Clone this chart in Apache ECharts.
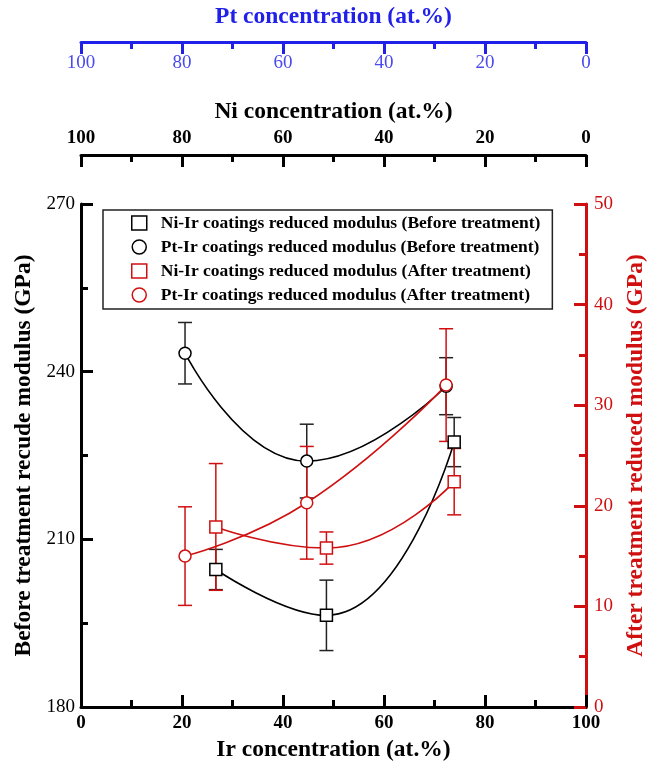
<!DOCTYPE html>
<html>
<head>
<meta charset="utf-8">
<script src="https://cdn.jsdelivr.net/npm/echarts@6/dist/echarts.min.js"></script>
<style>
  html, body { margin: 0; padding: 0; background: #fff; }
  #chart { width: 654px; height: 761px; }
</style>
</head>
<body>
<div id="chart"></div>
<script>
// Ir concentration (at.%) for each sample
const niIrX = [26.7, 48.6, 73.9];
const ptIrX = [20.6, 44.7, 72.3];

// before treatment (left axis, GPa)
const niIrBefore = [204.6, 196.4, 227.4];
const niIrBeforeErr = [3.6, 6.3, 4.4];
const ptIrBefore = [243.3, 224.0, 237.4];
const ptIrBeforeErr = [5.5, 6.6, 5.1];

// after treatment (right axis, GPa)
const niIrAfter = [17.9, 15.8, 22.4];
const niIrAfterErr = [6.3, 1.6, 3.3];
const ptIrAfter = [15.0, 20.3, 32.0];
const ptIrAfterErr = [4.9, 5.6, 5.6];

const legendNames = [
  'Ni-Ir coatings reduced modulus (Before treatment)',
  'Pt-Ir coatings reduced modulus (Before treatment)',
  'Ni-Ir coatings reduced modulus (After treatment)',
  'Pt-Ir coatings reduced modulus (After treatment)'
];

const RED = '#d01010';
const BLUE = '#2020e8';
const FONT = '"Liberation Serif", "DejaVu Serif", serif';

const pairs = (xs, ys) => xs.map((x, i) => [x, ys[i]]);
const triples = (xs, ys, es) => xs.map((x, i) => [x, ys[i], es[i]]);

// error bars with caps
const errRender = (color) => (params, api) => {
  const x = api.value(0), y = api.value(1), e = api.value(2);
  const hi = api.coord([x, y + e]);
  const lo = api.coord([x, y - e]);
  const w = 7;
  const style = { stroke: color, lineWidth: 1.5 };
  return {
    type: 'group',
    children: [
      { type: 'line', shape: { x1: hi[0], y1: hi[1], x2: lo[0], y2: lo[1] }, style },
      { type: 'line', shape: { x1: hi[0] - w, y1: hi[1], x2: hi[0] + w, y2: hi[1] }, style },
      { type: 'line', shape: { x1: lo[0] - w, y1: lo[1], x2: lo[0] + w, y2: lo[1] }, style }
    ]
  };
};

const lineSeries = (name, data, symbol, color, yIdx) => ({
  name,
  type: 'line',
  yAxisIndex: yIdx,
  data,
  smooth: 0.5,
  symbol,
  symbolSize: 12,
  showAllSymbol: true,
  lineStyle: { color, width: 1.6 },
  itemStyle: { color: '#fff', borderColor: color, borderWidth: 1.5 },
  z: 3
});

const errSeries = (data, color, yIdx) => ({
  type: 'custom',
  yAxisIndex: yIdx,
  renderItem: errRender(color),
  encode: { x: 0, y: 1 },
  data,
  silent: true,
  z: 2
});

const chart = echarts.init(document.getElementById('chart'));

const legendIcon = (name, icon, color) => ({
  name,
  icon,
  itemStyle: { color: 'rgba(0,0,0,0)', borderColor: color, borderWidth: 1.5 }
});

const titleStyle = (color) => ({ fontFamily: FONT, fontSize: 23.5, fontWeight: 'bold', color });

chart.setOption({
  animation: false,
  textStyle: { fontFamily: FONT },
  grid: { left: 81, right: 68, top: 204, bottom: 54, containLabel: false, outerBoundsMode: 'none' },
  legend: {
    orient: 'vertical',
    left: 103,
    top: 210,
    padding: [4, 12, 5, 28],
    borderColor: '#222',
    borderWidth: 1.5,
    itemWidth: 15,
    itemHeight: 14,
    itemGap: 6,
    textStyle: { fontFamily: FONT, fontSize: 17.5, fontWeight: 'bold', color: '#000', padding: [0, 0, 0, 9] },
    data: [
      legendIcon(legendNames[0], 'rect', '#000'),
      legendIcon(legendNames[1], 'circle', '#000'),
      legendIcon(legendNames[2], 'rect', RED),
      legendIcon(legendNames[3], 'circle', RED)
    ]
  },
  xAxis: [
    {
      type: 'value', min: 0, max: 100, interval: 20,
      name: 'Ir concentration (at.%)', nameLocation: 'middle', nameGap: 29,
      nameTextStyle: titleStyle('#000'),
      axisLine: { lineStyle: { color: '#000', width: 3 } },
      axisTick: { inside: true, length: 12, lineStyle: { width: 3, color: '#000' } },
      minorTick: { show: true, splitNumber: 2, length: 7, lineStyle: { width: 3, color: '#000' } },
      axisLabel: { fontFamily: FONT, fontSize: 19, fontWeight: 'bold', color: '#000', margin: 7 },
      splitLine: { show: false }
    },
    {
      type: 'value', min: 0, max: 100, interval: 20, inverse: true,
      position: 'top', offset: 49,
      name: 'Ni concentration (at.%)', nameLocation: 'middle', nameGap: 31,
      nameTextStyle: titleStyle('#000'),
      axisLine: { lineStyle: { color: '#000', width: 3 } },
      axisTick: { inside: true, length: 12, lineStyle: { width: 3, color: '#000' } },
      minorTick: { show: true, splitNumber: 2, length: 7, lineStyle: { width: 3, color: '#000' } },
      axisLabel: { fontFamily: FONT, fontSize: 19, fontWeight: 'bold', color: '#000', margin: 7 },
      splitLine: { show: false }
    },
    {
      type: 'value', min: 0, max: 100, interval: 20, inverse: true,
      position: 'top', offset: 162,
      name: 'Pt concentration (at.%)', nameLocation: 'middle', nameGap: 13,
      nameTextStyle: titleStyle(BLUE),
      axisLine: { lineStyle: { color: BLUE, width: 3 } },
      axisTick: { inside: true, length: 12, lineStyle: { width: 3, color: BLUE } },
      minorTick: { show: true, splitNumber: 2, length: 7, lineStyle: { width: 3, color: BLUE } },
      axisLabel: { inside: true, fontFamily: FONT, fontSize: 19, color: '#4a4aee', margin: 12 },
      splitLine: { show: false }
    }
  ],
  yAxis: [
    {
      type: 'value', min: 180, max: 270, interval: 30,
      name: 'Before treatment recude modulus (GPa)', nameLocation: 'middle', nameGap: 43, nameRotate: 90,
      nameTextStyle: titleStyle('#000'),
      axisLine: { show: true, lineStyle: { color: '#000', width: 3 } },
      axisTick: { inside: true, length: 12, lineStyle: { width: 3, color: '#000' } },
      minorTick: { show: true, splitNumber: 2, length: 7, lineStyle: { width: 3, color: '#000' } },
      axisLabel: { fontFamily: FONT, fontSize: 19, color: '#000', margin: 6 },
      splitLine: { show: false }
    },
    {
      type: 'value', min: 0, max: 50, interval: 10, position: 'right',
      name: 'After treatment reduced modulus (GPa)', nameLocation: 'middle', nameGap: 38, nameRotate: 90,
      nameTextStyle: titleStyle(RED),
      axisLine: { show: true, lineStyle: { color: RED, width: 3 } },
      axisTick: { inside: true, length: 12, lineStyle: { width: 3, color: RED } },
      minorTick: { show: true, splitNumber: 2, length: 7, lineStyle: { width: 3, color: RED } },
      axisLabel: { fontFamily: FONT, fontSize: 19, color: RED, margin: 8 },
      splitLine: { show: false }
    }
  ],
  series: [
    errSeries(triples(niIrX, niIrBefore, niIrBeforeErr), '#222', 0),
    errSeries(triples(ptIrX, ptIrBefore, ptIrBeforeErr), '#222', 0),
    lineSeries(legendNames[0], pairs(niIrX, niIrBefore), 'rect', '#000', 0),
    lineSeries(legendNames[1], pairs(ptIrX, ptIrBefore), 'circle', '#000', 0),
    errSeries(triples(niIrX, niIrAfter, niIrAfterErr), RED, 1),
    errSeries(triples(ptIrX, ptIrAfter, ptIrAfterErr), RED, 1),
    lineSeries(legendNames[2], pairs(niIrX, niIrAfter), 'rect', RED, 1),
    lineSeries(legendNames[3], pairs(ptIrX, ptIrAfter), 'circle', RED, 1)
  ]
});
</script>
</body>
</html>
